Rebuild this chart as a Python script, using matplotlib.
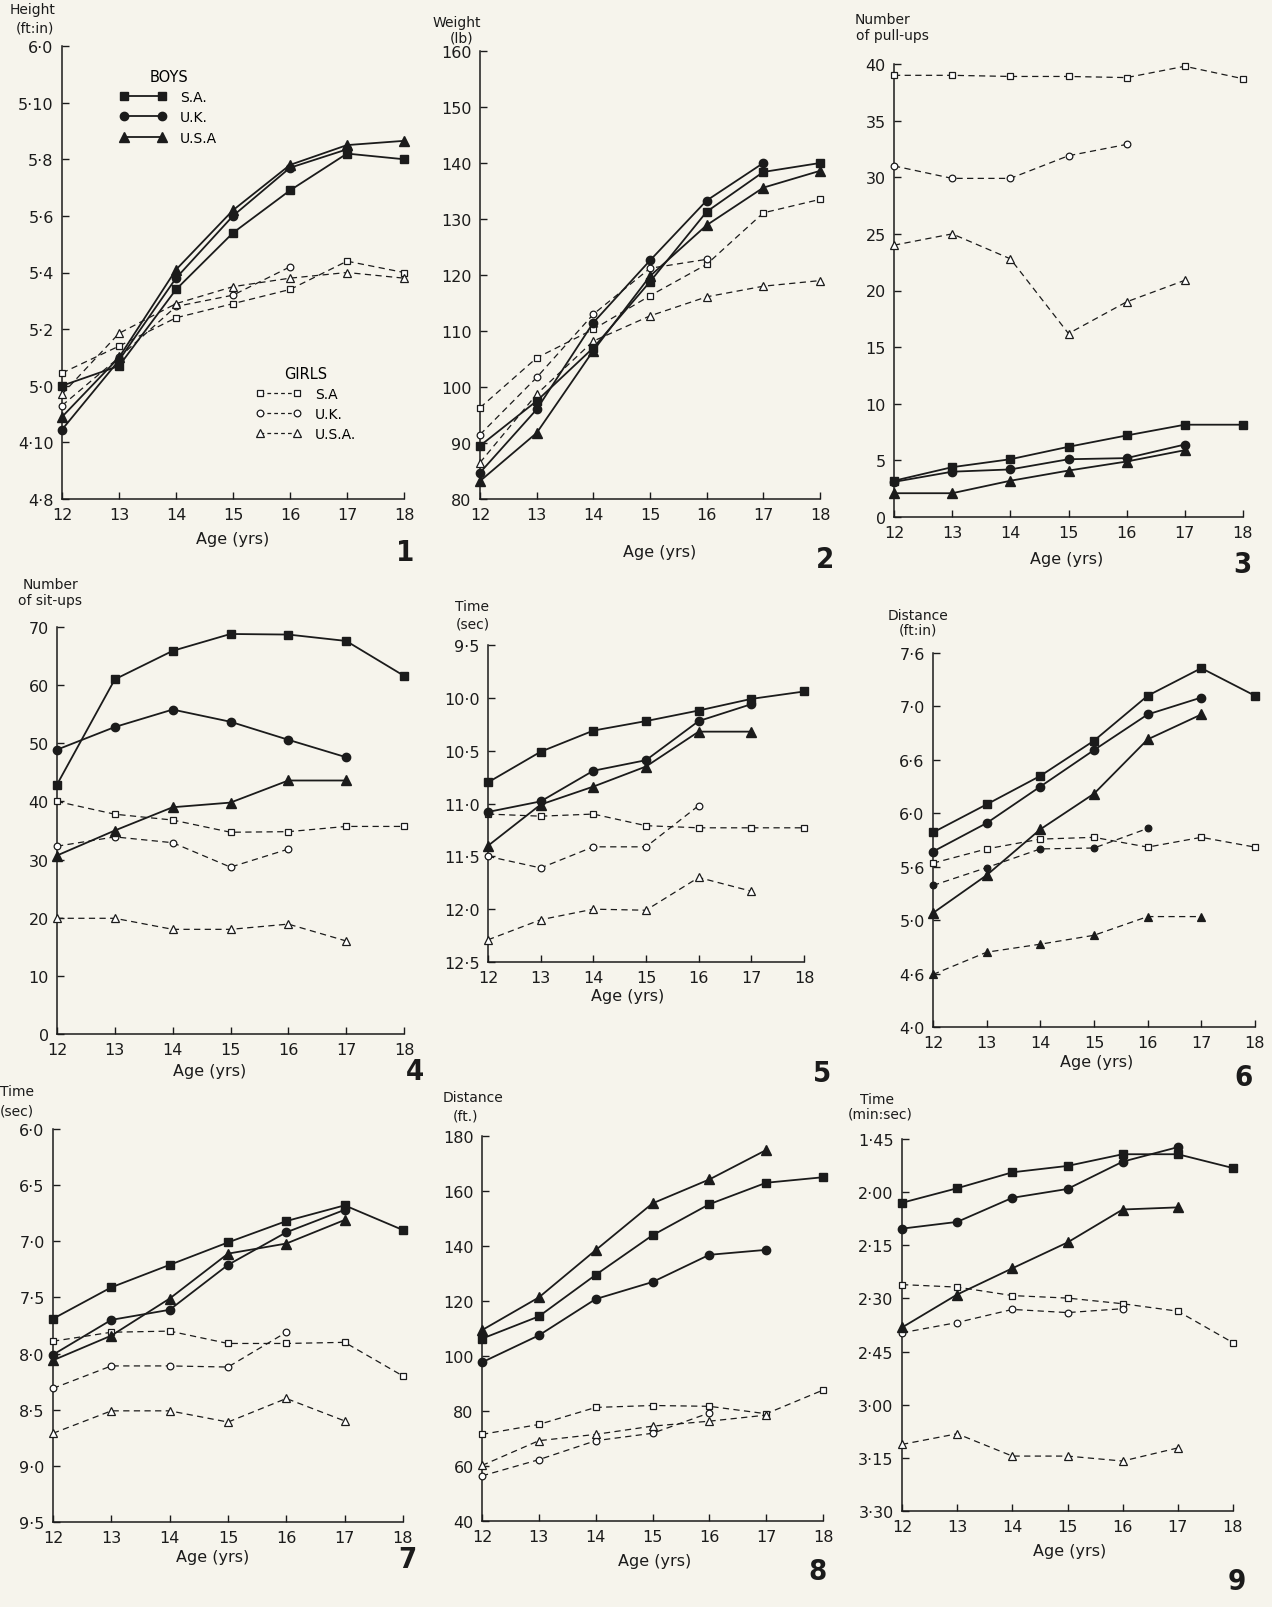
import numpy as np
import matplotlib.pyplot as plt
from matplotlib.lines import Line2D

W, H = 1272, 1608
BG = '#f6f4ec'
INK = '#1b1b1b'
N = None

ages = [12, 13, 14, 15, 16, 17, 18]
countries = ["S.A.", "U.K.", "U.S.A"]

# 1 - height, in inches
height_boys = {"S.A.": [60.0, 60.7, 63.4, 65.4, 66.9, 68.2, 68.0],
               "U.K.": [58.45, 60.9, 63.8, 66.0, 67.7, 68.35, N],
               "U.S.A": [58.9, 61.0, 64.1, 66.2, 67.8, 68.5, 68.65]}
height_girls = {"S.A.": [60.45, 61.4, 62.4, 62.9, 63.4, 64.4, 64.0],
                "U.K.": [59.3, 61.0, 62.8, 63.2, 64.2, N, N],
                "U.S.A": [59.7, 61.85, 62.9, 63.5, 63.8, 64.0, 63.8]}

# 2 - weight, lb
weight_boys = {"S.A.": [89.5, 97.5, 107.0, 118.8, 131.3, 138.4, 140.0],
               "U.K.": [84.7, 96.0, 111.5, 122.6, 133.3, 140.0, N],
               "U.S.A": [83.2, 91.8, 106.5, 119.8, 128.9, 135.6, 138.6]}
weight_girls = {"S.A.": [96.3, 105.2, 110.3, 116.3, 121.9, 131.1, 133.5],
                "U.K.": [91.5, 101.7, 113.0, 121.2, 122.8, N, N],
                "U.S.A": [86.5, 98.7, 108.2, 112.7, 116.1, 118.0, 119.0]}

# 3 - pull-ups
pullups_boys = {"S.A.": [3.2, 4.4, 5.1, 6.2, 7.2, 8.15, 8.15],
                "U.K.": [3.1, 4.0, 4.2, 5.1, 5.2, 6.4, N],
                "U.S.A": [2.1, 2.1, 3.2, 4.1, 4.9, 5.9, N]}
pullups_girls = {"S.A.": [39.0, 39.0, 38.9, 38.9, 38.8, 39.8, 38.7],
                 "U.K.": [31.0, 29.9, 29.9, 31.9, 32.9, N, N],
                 "U.S.A": [24.0, 25.0, 22.8, 16.2, 19.0, 20.9, N]}

# 4 - sit-ups
situps_boys = {"S.A.": [42.9, 61.0, 65.9, 68.8, 68.7, 67.6, 61.6],
               "U.K.": [48.9, 52.8, 55.8, 53.7, 50.6, 47.6, N],
               "U.S.A": [30.7, 35.0, 39.0, 39.8, 43.6, 43.6, N]}
situps_girls = {"S.A.": [40.0, 37.8, 36.8, 34.7, 34.8, 35.7, 35.7],
                "U.K.": [32.3, 33.9, 32.9, 28.7, 31.8, N, N],
                "U.S.A": [19.9, 19.9, 18.0, 18.0, 18.9, 16.0, N]}

# 5 - sprint time, sec
sprint_boys = {"S.A.": [10.80, 10.51, 10.31, 10.22, 10.12, 10.01, 9.94],
               "U.K.": [11.08, 10.98, 10.69, 10.59, 10.22, 10.06, N],
               "U.S.A": [11.40, 11.01, 10.84, 10.65, 10.32, 10.32, N]}
sprint_girls = {"S.A.": [11.10, 11.12, 11.10, 11.21, 11.23, 11.23, 11.23],
                "U.K.": [11.50, 11.61, 11.41, 11.41, 11.02, N, N],
                "U.S.A": [12.29, 12.10, 12.00, 12.01, 11.70, 11.83, N]}

# 6 - jump distance, inches
jump_boys = {"S.A.": [69.85, 73.0, 76.2, 80.15, 85.2, 88.3, 85.2],
             "U.K.": [67.7, 70.9, 75.0, 79.1, 83.1, 85.0, N],
             "U.S.A": [60.8, 65.05, 70.2, 74.2, 80.3, 83.1, N]}
jump_girls = {"S.A.": [66.4, 68.0, 69.1, 69.3, 68.2, 69.3, 68.2],
              "U.K.": [63.9, 65.9, 68.0, 68.1, 70.3, N, N],
              "U.S.A": [53.9, 56.4, 57.3, 58.3, 60.4, 60.4, N]}

# 7 - shuttle run time, sec
shuttle_boys = {"S.A.": [7.69, 7.41, 7.21, 7.01, 6.82, 6.68, 6.90],
                "U.K.": [8.01, 7.70, 7.61, 7.21, 6.92, 6.72, N],
                "U.S.A": [8.06, 7.84, 7.51, 7.11, 7.02, 6.81, N]}
shuttle_girls = {"S.A.": [7.89, 7.81, 7.80, 7.91, 7.91, 7.90, 8.20],
                 "U.K.": [8.31, 8.11, 8.11, 8.12, 7.81, N, N],
                 "U.S.A": [8.71, 8.51, 8.51, 8.61, 8.40, 8.60, N]}

# 8 - throw distance, ft
throw_boys = {"S.A.": [106.3, 114.4, 129.5, 143.9, 155.2, 163.0, 165.0],
              "U.K.": [97.7, 107.5, 120.7, 126.9, 136.8, 138.6, N],
              "U.S.A": [109.4, 121.3, 138.5, 155.5, 164.2, 174.9, N]}
throw_girls = {"S.A.": [71.5, 75.1, 81.3, 82.0, 81.7, 79.0, 87.6],
               "U.K.": [56.4, 62.3, 69.2, 71.9, 79.3, N, N],
               "U.S.A": [60.2, 69.2, 71.5, 74.5, 76.3, 78.5, N]}

# 9 - run time, seconds
run_boys = {"S.A.": [123.0, 118.9, 114.4, 112.6, 109.3, 109.3, 113.2],
            "U.K.": [130.3, 128.4, 121.6, 119.1, 111.4, 107.3, N],
            "U.S.A": [158.2, 148.9, 141.5, 134.2, 124.9, 124.3, N]}
run_girls = {"S.A.": [146.1, 146.8, 149.2, 149.9, 151.5, 153.6, 162.5],
             "U.K.": [159.7, 156.8, 153.1, 154.0, 152.9, N, N],
             "U.S.A": [191.2, 188.2, 194.5, 194.5, 195.9, 192.2, N]}

markers = {"S.A.": 's', "U.K.": 'o', "U.S.A": '^'}
bsize = {"S.A.": 5.5, "U.K.": 6, "U.S.A": 6.5}
gsize = {"S.A.": 5, "U.K.": 4.8, "U.S.A": 5.5}

plt.rcParams['font.family'] = ['DejaVu Sans']
fig = plt.figure(figsize=(W / 100, H / 100), dpi=100, facecolor=BG)


def px(x, y):
    return x / W, 1 - y / H


def vals(v):
    return np.array([np.nan if a is None else a for a in v], float)


def panel(box, ylim, yticks, ylabels, boys, girls, title, tpos, agepos, num, numpos,
          girls_filled=()):
    L, T, R, B = box
    ax = fig.add_axes([L / W, 1 - B / H, (R - L) / W, (B - T) / H])
    ax.set_facecolor(BG)
    for name, v in girls.items():
        fc = INK if name in girls_filled else 'white'
        ax.plot(ages, vals(v), color=INK, lw=0.9, dashes=(5, 3.5),
                marker=markers[name], ms=gsize[name], mfc=fc, mec=INK, mew=0.9,
                clip_on=False, zorder=3)
    for name, v in boys.items():
        ax.plot(ages, vals(v), color=INK, lw=1.3, marker=markers[name],
                ms=bsize[name], mfc=INK, mec=INK, clip_on=False, zorder=4)
    ax.set_xlim(12, 18)
    ax.set_ylim(*ylim)
    ax.set_xticks(ages)
    ax.set_xticklabels([str(a) for a in ages], fontsize=11.5)
    ax.set_yticks(yticks)
    ax.set_yticklabels(ylabels, fontsize=11.5)
    ax.tick_params(direction='in', length=5, width=1, color=INK, labelcolor=INK, pad=6)
    for s in ['top', 'right']:
        ax.spines[s].set_visible(False)
    for s in ['left', 'bottom']:
        ax.spines[s].set_linewidth(1.1)
        ax.spines[s].set_color(INK)
    for i, line in enumerate(title):
        x, y = tpos[i]
        fig.text(*px(x, y), line, ha='center', va='center', fontsize=10, color=INK)
    fig.text(*px(*agepos), 'Age (yrs)', ha='center', va='center', fontsize=11.5, color=INK)
    fig.text(*px(*numpos), num, ha='center', va='center', fontsize=21,
             fontweight='bold', color=INK, fontstretch='condensed')
    return ax


ax1 = panel((62, 47, 404, 500), (56, 72), list(range(56, 73, 2)),
            ["4·8", "4·10", "5·0", "5·2", "5·4", "5·6", "5·8", "5·10", "6·0"],
            height_boys, height_girls, ["Height", "(ft:in)"], [(33, 10), (35, 28)],
            (233, 540), "1", (405, 553))

bh = [Line2D([], [], color=INK, lw=1.3, marker=markers[c], ms=bsize[c], mfc=INK, mec=INK)
      for c in countries]
gh = [Line2D([], [], color=INK, lw=0.9, dashes=(3, 2.5), marker=markers[c], ms=gsize[c],
             mfc='white', mec=INK, mew=0.9) for c in countries]
leg1 = ax1.legend(bh, ["S.A.", "U.K.", "U.S.A"], title="BOYS", loc='upper left',
                  bbox_to_anchor=(0.15, 0.965), frameon=False, numpoints=2,
                  handlelength=3.3, handletextpad=1.0, labelspacing=0.45, borderpad=0,
                  fontsize=10, title_fontsize=10.5)
ax1.add_artist(leg1)
ax1.legend(gh, ["S.A", "U.K.", "U.S.A."], title="GIRLS", loc='upper left',
           bbox_to_anchor=(0.545, 0.31), frameon=False, numpoints=2,
           handlelength=3.3, handletextpad=1.0, labelspacing=0.45, borderpad=0,
           fontsize=10, title_fontsize=10.5)

panel((480, 52, 820, 500), (80, 160), list(range(80, 161, 10)),
      [str(v) for v in range(80, 161, 10)],
      weight_boys, weight_girls, ["Weight", "(lb)"], [(457, 23), (462, 38)],
      (660, 553), "2", (825, 560))

panel((894, 65, 1243, 518), (0, 40), list(range(0, 41, 5)),
      [str(v) for v in range(0, 41, 5)],
      pullups_boys, pullups_girls, ["Number", "of pull-ups"], [(882, 20), (892, 36)],
      (1067, 560), "3", (1242, 565))

panel((57, 628, 404, 1035), (0, 70), list(range(0, 71, 10)),
      [str(v) for v in range(0, 71, 10)],
      situps_boys, situps_girls, ["Number", "of sit-ups"], [(50, 585), (50, 601)],
      (210, 1072), "4", (415, 1072))

panel((488, 646, 804, 963), (12.5, 9.5), [9.5, 10.0, 10.5, 11.0, 11.5, 12.0, 12.5],
      ["9·5", "10·0", "10·5", "11·0", "11·5", "12·0", "12·5"],
      sprint_boys, sprint_girls, ["Time", "(sec)"], [(472, 607), (473, 625)],
      (628, 997), "5", (822, 1074))

panel((933, 654, 1255, 1028), (48, 90), list(range(48, 91, 6)),
      ["4·0", "4·6", "5·0", "5·6", "6·0", "6·6", "7·0", "7·6"],
      jump_boys, jump_girls, ["Distance", "(ft:in)"], [(918, 616), (918, 631)],
      (1097, 1063), "6", (1243, 1078), girls_filled=("U.K.", "U.S.A"))

panel((53, 1130, 403, 1523), (9.5, 6.0), [6.0, 6.5, 7.0, 7.5, 8.0, 8.5, 9.0, 9.5],
      ["6·0", "6·5", "7·0", "7·5", "8·0", "8·5", "9·0", "9·5"],
      shuttle_boys, shuttle_girls, ["Time", "(sec)"], [(17, 1092), (17, 1112)],
      (213, 1558), "7", (407, 1560))

panel((482, 1137, 823, 1522), (40, 180), list(range(40, 181, 20)),
      [str(v) for v in range(40, 181, 20)],
      throw_boys, throw_girls, ["Distance", "(ft.)"], [(473, 1098), (466, 1117)],
      (655, 1562), "8", (818, 1572))

panel((902, 1140, 1233, 1512), (210, 105), list(range(105, 211, 15)),
      ["1·45", "2·00", "2·15", "2·30", "2·45", "3·00", "3·15", "3·30"],
      run_boys, run_girls, ["Time", "(min:sec)"], [(877, 1100), (880, 1115)],
      (1070, 1552), "9", (1237, 1582))

fig.savefig('out.png', dpi=100, facecolor=BG)
